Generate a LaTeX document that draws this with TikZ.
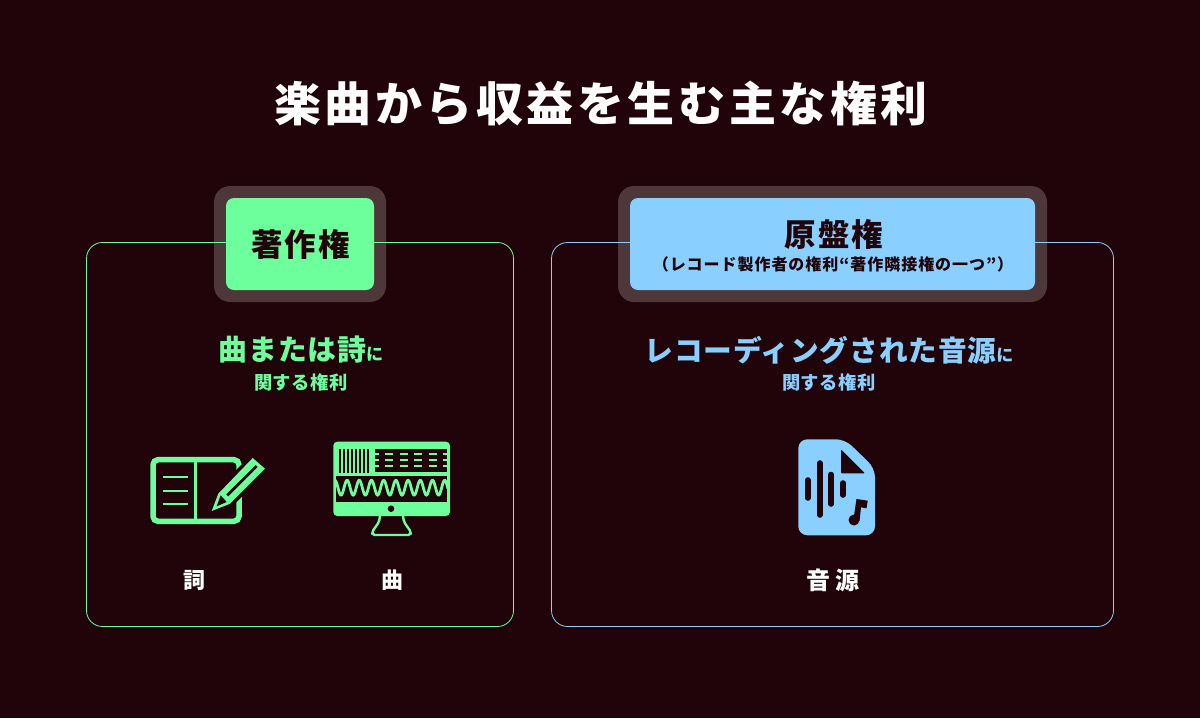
\documentclass[tikz,border=0pt]{standalone}
\usepackage{fontspec}
\setmainfont{Noto Sans CJK JP}[BoldFont={* Bold}]
\newfontfamily\titlefont{Noto Sans CJK JP}[BoldFont={* Black},LetterSpace=7.5]
\newfontfamily\tagfont{Noto Sans CJK JP}[BoldFont={* Black},LetterSpace=6]
\newfontfamily\subfont{Noto Sans CJK JP}[BoldFont={* Black},LetterSpace=3]
\newfontfamily\widefont{Noto Sans CJK JP}[BoldFont={* Black},LetterSpace=20]
\definecolor{bgdark}{HTML}{200409}
\definecolor{halo}{HTML}{4D3739}
\definecolor{rightsgreen}{HTML}{6DFF9C}
\definecolor{rightsblue}{HTML}{89CFFF}
\tikzset{
  frameline/.style={line width=.8pt,rounded corners=16pt},
  halobox/.style={fill=halo,rounded corners=16pt},
  tagbox/.style={rounded corners=8pt},
  bgline/.style={draw=bgdark},
}
\begin{document}
\begin{tikzpicture}[x=1pt,y=-1pt]
    \fill [bgdark] (0,0) rectangle (1200,718);
    \useasboundingbox (0,0) rectangle (1200,718);

    \node (title) [white,font=\titlefont\bfseries\fontsize{47}{47}\selectfont] at (601,104) {楽曲から収益を生む主な権利};

    % frames and tags
    \fill [halobox] (214,186) rectangle (386,302);
    \fill [halobox] (618,186) rectangle (1047,302);
    \draw [frameline,rightsgreen] (86.5,242.5) rectangle (513.5,626.5);
    \draw [frameline,rightsblue] (551.5,242.5) rectangle (1113.5,626.5);
    \fill [tagbox,rightsgreen] (226,198) rectangle (374,290);
    \fill [tagbox,rightsblue] (630,198) rectangle (1035,290);

    \node (copyright) [bgdark,font=\tagfont\bfseries\fontsize{31.5}{31.5}\selectfont] at (300.5,244.5) {著作権};
    \node (master) [bgdark,font=\tagfont\bfseries\fontsize{31.5}{31.5}\selectfont] at (834,234.5) {原盤権};
    \node (mastersub) [bgdark,font=\tagfont\bfseries\fontsize{16}{16}\selectfont] at (833,264) {（レコード製作者の権利“著作隣接権の一つ”）};

    \node (songtext) [rightsgreen,font=\subfont\bfseries\fontsize{28.8}{28.8}\selectfont] at (301,350) {曲または詩{\fontsize{17}{17}\selectfont に}};
    \node (songsub) [rightsgreen,font=\subfont\bfseries\fontsize{18.3}{18.3}\selectfont] at (301,382.5) {関する権利};
    \node (recordtext) [rightsblue,font=\subfont\bfseries\fontsize{28.7}{28.7}\selectfont] at (829,350) {レコーディングされた音源{\fontsize{17}{17}\selectfont に}};
    \node (recordsub) [rightsblue,font=\subfont\bfseries\fontsize{18.3}{18.3}\selectfont] at (829,382.5) {関する権利};

    \node (lyrics) [white,font=\subfont\bfseries\fontsize{22}{22}\selectfont] at (194.5,580) {詞};
    \node (melody) [white,font=\subfont\bfseries\fontsize{22}{22}\selectfont] at (392.5,580) {曲};
    \node (sound) [white,font=\widefont\bfseries\fontsize{24}{24}\selectfont] at (833,580) {音源};

    % notebook
    \draw [rightsgreen,line width=5.5pt,rounded corners=5pt] (153,459.7) rectangle (239,521.3);
    \draw [rightsgreen,line width=3.5pt] (195.7,459.7) -- (195.7,521.3);
    \foreach \y in {477.3,490.6,504}
        \draw [rightsgreen,line width=2pt] (162.7,\y) -- (188,\y);

    % pencil
    \draw [bgline,fill=bgdark,line width=7pt] (218.3,493.7) -- (252.7,458) -- (265,468.7) -- (230,503.7) -- cycle;
    \fill [rightsgreen] (211.7,511) -- (218.3,493.7) -- (252.7,458) -- (265,468.7) -- (230,503.7) -- cycle;
    \draw [bgline,line width=2.7pt] (256.7,466) -- (227.3,495.3);
    \fill [bgdark] (220.7,495.3) -- (226.7,502) -- (216.7,506.3) -- cycle;

    % monitor
    \fill [rightsgreen,rounded corners=4pt] (333.3,441.7) rectangle (450,516);
    \fill [bgdark] (335.7,475.7) rectangle (447.3,501.7);
    \fill [bgdark] (375,449) rectangle (447.3,472.3);
    \foreach \x in {339,343,347,...,367}
        \fill [bgdark] (\x,449) rectangle (\x+2.3,472.7);
    \foreach \y in {454.2,460,465.8}
        \foreach \x/\w in {375/4,385/8,400/8,414.3/8,429/8,443.3/4}
            \fill [rightsgreen] (\x,\y-1.2) rectangle (\x+\w,\y+1.2);
    \begin{scope}
        \clip (335.7,475.7) rectangle (447.3,501.7);
        \draw [rightsgreen,line width=2.8pt] plot [domain=-6:107,samples=200,smooth] ({\x+341},{487.7+7.4*cos(\x/12.2*360)});
    \end{scope}
    \fill [bgdark] (391,508.7) circle [radius=3.3];
    \draw [rightsgreen,line width=2.4pt,line join=round,rounded corners=2pt] (380,516) -- (379,522) -- (372,532) -- (372.5,535) -- (410.5,535) -- (411,532) -- (404,522) -- (403,516);

    % sound file
    \fill [rightsblue,rounded corners=9pt] (798.3,439.3) -- (845,439.3) -- (875,468.3) -- (875,535.3) -- (798.3,535.3) -- cycle;
    \fill [bgdark,rounded corners=1pt] (841,449.3) -- (865,473.3) -- (841,473.3) -- cycle;
    \draw [bgline,line width=5.6pt,line cap=round] (807.7,480) -- (807.7,498);
    \draw [bgline,line width=5.6pt,line cap=round] (819.7,463) -- (819.7,515);
    \draw [bgline,line width=5.6pt,line cap=round] (831,474.5) -- (831,504);
    \draw [bgline,line width=5.6pt,line cap=round] (843,483) -- (843,495);
    \fill [bgdark] (854,520) circle [radius=5.5];
    \fill [bgdark] (856.5,499) -- (867.7,500.7) -- (866.5,508.3) -- (861,507.3) -- (859.5,521) -- (853.5,519) -- cycle;
\end{tikzpicture}
\end{document}
